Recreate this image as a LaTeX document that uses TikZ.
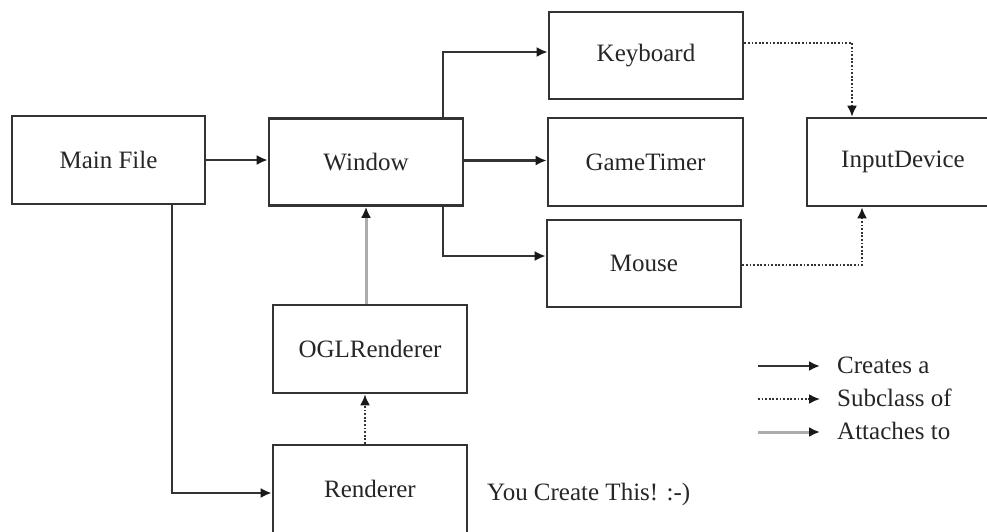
\documentclass[tikz,border=0pt]{standalone}
\usepackage{fontspec}
\setmainfont{Liberation Serif}
\usetikzlibrary{arrows.meta}
\begin{document}
\begin{tikzpicture}[x=1pt,y=-1pt,
  box/.style={draw=black!80, line width=2.6pt, rectangle, minimum width=194pt, minimum height=88pt, inner sep=0pt, font=\fontsize{25}{30}\selectfont, text=black!85},
  tipx/.style={-{Latex[length=11pt,width=10pt,color=black!90]}},
  create/.style={tipx, draw=black!80, line width=2.4pt},
  sub/.style={tipx, draw=black!80, line width=2pt, dash pattern=on 1.8pt off 1.8pt},
  attach/.style={tipx, draw=gray!65, line width=3pt},
  lbl/.style={font=\fontsize{25}{30}\selectfont, text=black!85, inner sep=0pt, anchor=base west}]
\useasboundingbox (0,0) rectangle (987,531);
\clip (0,0) rectangle (987,531);
\node[box, minimum width=193pt] (main) at (108.5,160) {Main File};
\node[box, minimum height=87pt] (win) at (366,162) {Window};
\node[box, minimum height=87pt] (kb) at (646,55.5) {Keyboard};
\node[box, minimum width=195pt] (gt) at (645.5,162) {GameTimer};
\node[box, minimum height=87pt] (mouse) at (644,263.5) {Mouse};
\node[box, minimum width=192pt] (inp) at (903,162) {InputDevice};
\node[box] (ogl) at (370,349) {OGLRenderer};
\node[box] (ren) at (370,489) {Renderer};
\node[lbl] (you) at (487,500) {You Create This! :-)};
% connectors
\coordinate (wx) at (443,0);
\draw[create] (main.east) -- (main.east -| win.west);
\draw[create] (win.north -| wx) |- ([yshift=3.5pt]kb.west);
\draw[create] ([yshift=1.5pt]win.east) -- ([yshift=1.5pt]gt.west);
\draw[create] (win.south -| wx) |- ([yshift=7.5pt]mouse.west);
\draw[sub] ([yshift=12.5pt]kb.east) -| ([xshift=-51pt]inp.north);
\draw[sub] ([yshift=-1.5pt]mouse.east) -| ([xshift=-41pt]inp.south);
\draw[attach] (win.south |- ogl.north) -- (win.south);
\draw[sub] ([xshift=-5pt]ren.north) -- ([xshift=-5pt]ogl.south);
\draw[create] ([xshift=63.5pt]main.south) |- ([yshift=-4pt]ren.west);
% legend
\coordinate (c1) at (758,366); \coordinate (c2) at (820,366);
\coordinate (s1) at (758,399); \coordinate (s2) at (820,399);
\coordinate (a1) at (758,432); \coordinate (a2) at (820,432);
\draw[create] (c1) -- (c2);
\draw[sub] (s1) -- (s2);
\draw[attach] (a1) -- (a2);
\node[lbl] (lc) at (837,373) {Creates a};
\node[lbl] (ls) at (837,406) {Subclass of};
\node[lbl] (la) at (837,439) {Attaches to};
\end{tikzpicture}
\end{document}
